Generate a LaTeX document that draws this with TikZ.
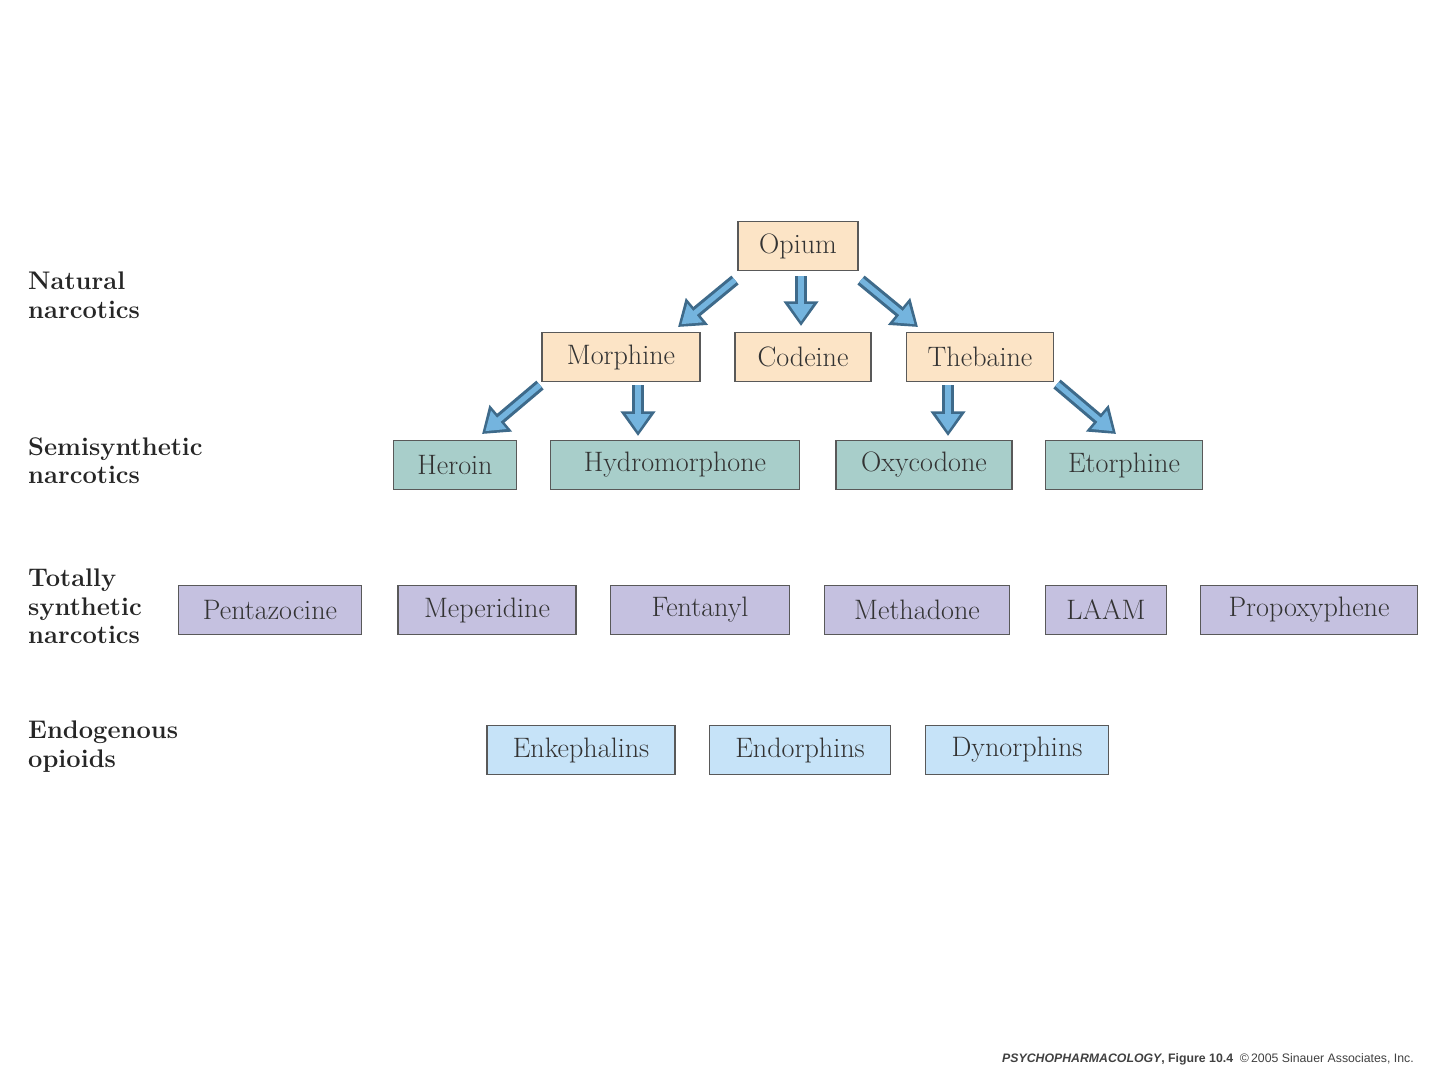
\documentclass[tikz,border=0pt]{standalone}
\usepackage{fontspec}
\newfontfamily\footfont{Liberation Sans}
\usetikzlibrary{arrows.meta}
\definecolor{tan}{HTML}{FCE4C6}
\definecolor{teal}{HTML}{A8CECA}
\definecolor{lav}{HTML}{C5C1E0}
\definecolor{lblue}{HTML}{C6E3F8}
\definecolor{abl}{HTML}{74B4DE}
\definecolor{adk}{HTML}{3E6A8A}
\begin{document}
\begin{tikzpicture}[x=0.02cm,y=-0.02cm,
 box/.style={draw=black!65,line width=1pt,minimum height=0.98cm,inner sep=0pt,font=\fontsize{16}{18}\selectfont,text=black!80},
 nat/.style={box,fill=tan}, semi/.style={box,fill=teal},
 syn/.style={box,fill=lav}, endo/.style={box,fill=lblue},
 lab/.style={anchor=north west,align=left,font=\bfseries\fontsize{14.5}{16}\selectfont,text=black!85},
 aout/.style={line width=6.5pt,draw=adk,-{Triangle[width=19pt,length=14pt]}},
 ain/.style={line width=3pt,draw=abl,-{Triangle[width=13pt,length=10pt]},shorten >=2.5pt}]
\useasboundingbox (0,0) rectangle (1440,1080);
\node[nat,minimum width=2.4cm] (opium) at (798,246) {Opium};
\node[nat,minimum width=3.16cm] (morph) at (621,357) {Morphine};
\node[nat,minimum width=2.72cm] (cod) at (803,357) {Codeine};
\node[nat,minimum width=2.94cm] (theb) at (980,357) {Thebaine};
\node[semi,minimum width=2.46cm] (her) at (455,465) {Heroin};
\node[semi,minimum width=4.98cm] (hyd) at (675,465) {Hydromorphone};
\node[semi,minimum width=3.52cm] (oxy) at (924,465) {Oxycodone};
\node[semi,minimum width=3.14cm] (eto) at (1124,465) {Etorphine};
\node[syn,minimum width=3.66cm] (pen) at (270,610) {Pentazocine};
\node[syn,minimum width=3.56cm] (mep) at (487,610) {Meperidine};
\node[syn,minimum width=3.58cm] (fen) at (700,610) {Fentanyl};
\node[syn,minimum width=3.7cm] (met) at (917,610) {Methadone};
\node[syn,minimum width=2.42cm] (laam) at (1106,610) {LAAM};
\node[syn,minimum width=4.34cm] (pro) at (1309,610) {Propoxyphene};
\node[endo,minimum width=3.76cm] (enk) at (581,750) {Enkephalins};
\node[endo,minimum width=3.62cm] (endo) at (800,750) {Endorphins};
\node[endo,minimum width=3.66cm] (dyn) at (1017,750) {Dynorphins};
\node[lab] (l1) at (22,266) {Natural\\narcotics};
\node[lab] (l2) at (22,431) {Semisynthetic\\narcotics};
\node[lab] (l3) at (22,563) {Totally\\synthetic\\narcotics};
\node[lab] (l4) at (22,715) {Endogenous\\opioids};
\coordinate (a1s) at (735,280); \coordinate (a1e) at (678,327);
\coordinate (a2s) at (801,276); \coordinate (a2e) at (801,326);
\coordinate (a3s) at (861,280); \coordinate (a3e) at (918,327);
\coordinate (a4s) at (540,385); \coordinate (a4e) at (482,434);
\coordinate (a5s) at (638,385); \coordinate (a5e) at (638,436);
\coordinate (a6s) at (948,385); \coordinate (a6e) at (948,436);
\coordinate (a7s) at (1057,384); \coordinate (a7e) at (1116,434);
\foreach \i in {1,...,7}{\draw[aout] (a\i s) -- (a\i e); \draw[ain] (a\i s) -- (a\i e);}
\node[anchor=east,font=\footfont\fontsize{7}{8}\selectfont,text=black!75] (foot) at (1420,1059) {\textbf{\textit{PSYCHOPHARMACOLOGY}, Figure 10.4} \ \copyright\,2005 Sinauer Associates, Inc.};
\end{tikzpicture}
\end{document}
